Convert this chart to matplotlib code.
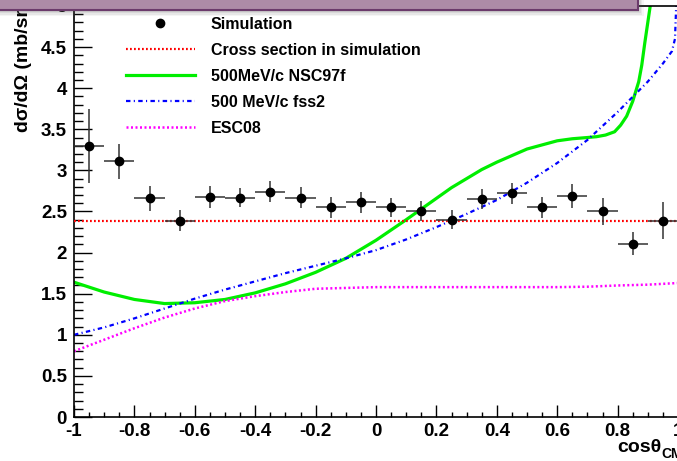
import matplotlib.pyplot as plt
from matplotlib.patches import Rectangle
from matplotlib.lines import Line2D
from matplotlib.ticker import MultipleLocator, FuncFormatter

plt.rcParams['font.family'] = ['Liberation Sans', 'DejaVu Sans']
plt.rcParams['font.weight'] = 'bold'
plt.rcParams['axes.unicode_minus'] = False

# simulated angular distribution (bin centres, values, errors)
sim_x = [-0.95, -0.85, -0.75, -0.65, -0.55, -0.45, -0.35, -0.25, -0.15, -0.05,
         0.05, 0.15, 0.25, 0.35, 0.45, 0.55, 0.65, 0.75, 0.85, 0.95]
sim_y = [3.30, 3.11, 2.66, 2.39, 2.68, 2.67, 2.74, 2.67, 2.55, 2.61,
         2.55, 2.51, 2.40, 2.65, 2.72, 2.55, 2.69, 2.50, 2.11, 2.39]
sim_yerr = [0.45, 0.21, 0.15, 0.125, 0.135, 0.12, 0.13, 0.125, 0.125, 0.125,
            0.12, 0.12, 0.115, 0.125, 0.13, 0.13, 0.145, 0.165, 0.145, 0.225]
sim_xerr = 0.05

# flat cross section used in the simulation
xsec_x = [-1.0, 1.0]
xsec_y = [2.39, 2.39]

# NSC97f at 500 MeV/c
nsc_x = [-1.0, -0.9, -0.8, -0.7, -0.6, -0.5, -0.4, -0.3, -0.2, -0.1, 0.0,
         0.1, 0.2, 0.25, 0.3, 0.35, 0.4, 0.5, 0.6, 0.65, 0.7, 0.73, 0.76, 0.79, 0.81, 0.83,
         0.85, 0.87, 0.88, 0.89, 0.90, 0.91]
nsc_y = [1.64, 1.52, 1.43, 1.38, 1.39, 1.43, 1.51, 1.62, 1.76, 1.93, 2.15,
         2.40, 2.66, 2.79, 2.90, 3.01, 3.10, 3.26, 3.36, 3.385, 3.40, 3.41, 3.43, 3.47,
         3.55, 3.66, 3.84, 4.08, 4.28, 4.55, 4.80, 5.05]

# fss2 at 500 MeV/c
fss_x = [-1.0, -0.9, -0.8, -0.7, -0.6, -0.5, -0.4, -0.3, -0.2, -0.1, 0.0,
         0.1, 0.2, 0.3, 0.4, 0.5, 0.6, 0.7, 0.8, 0.9, 0.95, 0.98, 0.99, 0.995]
fss_y = [1.00, 1.09, 1.20, 1.32, 1.44, 1.55, 1.65, 1.75, 1.84, 1.93, 2.03,
         2.16, 2.31, 2.47, 2.64, 2.85, 3.09, 3.37, 3.71, 4.08, 4.30, 4.45, 4.60, 5.10]

# ESC08
esc_x = [-1.0, -0.9, -0.8, -0.7, -0.6, -0.5, -0.4, -0.3, -0.2, -0.1, 0.0,
         0.2, 0.4, 0.6, 0.7, 0.8, 0.9, 1.0]
esc_y = [0.80, 0.94, 1.08, 1.21, 1.32, 1.41, 1.47, 1.52, 1.56, 1.57, 1.58,
         1.58, 1.58, 1.58, 1.585, 1.60, 1.61, 1.63]

W, H = 677, 461
fig = plt.figure(figsize=(W / 100, H / 100), dpi=100)
ax = fig.add_axes([74 / W, (H - 417) / H, 604 / W, 411 / H])

ax.plot(xsec_x, xsec_y, color='#ff0000', lw=1.6, ls=(0, (0.8, 1.0)), zorder=3)
ax.plot(nsc_x, nsc_y, color='#00ee00', lw=2.3, zorder=2)
ax.plot(fss_x, fss_y, color='#0000ff', lw=1.6, ls=(0, (2, 1.5, 0.5, 1.5)), zorder=2)
ax.plot(esc_x, esc_y, color='#ff00ff', lw=1.8, ls=(0, (0.8, 1.0)), zorder=2)
ax.errorbar(sim_x, sim_y, xerr=sim_xerr, yerr=sim_yerr, fmt='o', color='black',
            ecolor='#333333', elinewidth=1.1, ms=6, capsize=0, zorder=4)

ax.set_xlim(-1, 1)
ax.set_ylim(0, 5)
ax.xaxis.set_major_locator(MultipleLocator(0.2))
ax.xaxis.set_minor_locator(MultipleLocator(0.05))
ax.yaxis.set_major_locator(MultipleLocator(0.5))
ax.yaxis.set_minor_locator(MultipleLocator(0.1))
fmt = FuncFormatter(lambda v, p: '%g' % round(v, 2))
ax.xaxis.set_major_formatter(fmt)
ax.yaxis.set_major_formatter(fmt)
ax.tick_params(axis='both', which='both', direction='in', top=False, right=False,
               labelsize=13.5, width=1.0)
ax.tick_params(axis='y', which='major', length=13, pad=5)
ax.tick_params(axis='y', which='minor', length=6.5)
ax.tick_params(axis='x', which='major', length=8.5, pad=4)
ax.tick_params(axis='x', which='minor', length=3.6)
for lab in ax.get_xticklabels() + ax.get_yticklabels():
    lab.set_fontweight('bold')
for sp in ax.spines.values():
    sp.set_linewidth(1.2)

handles = [
    Line2D([], [], ls='none', marker='o', color='black', ms=6),
    Line2D([], [], color='#ff0000', lw=1.6, ls=(0, (0.8, 1.0))),
    Line2D([], [], color='#00ee00', lw=2.3),
    Line2D([], [], color='#0000ff', lw=1.6, ls=(0, (2, 1.5, 0.5, 1.5))),
    Line2D([], [], color='#ff00ff', lw=1.8, ls=(0, (0.8, 1.0))),
]
labels = ['Simulation', 'Cross section in simulation', '500MeV/c NSC97f',
          '500 MeV/c fss2', 'ESC08']
ax.legend(handles, labels, loc='upper left', bbox_to_anchor=(126 / W, 1 - 17 / H),
          bbox_transform=fig.transFigure, frameon=False, borderpad=0,
          borderaxespad=0, handlelength=4.3, handletextpad=1.0,
          labelspacing=0.69, prop={'size': 11.5, 'weight': 'bold'})

fig.text(24 / W, 1 - 132 / H, 'd\u03c3/d\u03a9 (mb/sr)', rotation=90,
         ha='center', va='bottom', fontsize=14, fontweight='bold')
fig.text(617 / W, 1 - 452 / H, 'cos\u03b8', ha='left', va='baseline',
         fontsize=14, fontweight='bold')
fig.text(661 / W, 1 - 458 / H, 'CM', ha='left', va='baseline',
         fontsize=10, fontweight='bold')

# slide banner over the top of the plot
for k, a in enumerate([0.12, 0.10, 0.08, 0.06]):
    fig.add_artist(Rectangle((0, 1 - (12 + 1.5 * k) / H), (639 + 1.5 * k) / W, 0.1,
                             transform=fig.transFigure, facecolor='#555555',
                             edgecolor='none', alpha=a, zorder=9))
fig.add_artist(Rectangle((-0.01, 1 - 10 / H), 0.01 + 638 / W, 0.1,
                         transform=fig.transFigure, facecolor='#ad8ba7',
                         edgecolor='#6b3a6b', lw=1.5, zorder=10))

fig.savefig('out.png', dpi=100)
